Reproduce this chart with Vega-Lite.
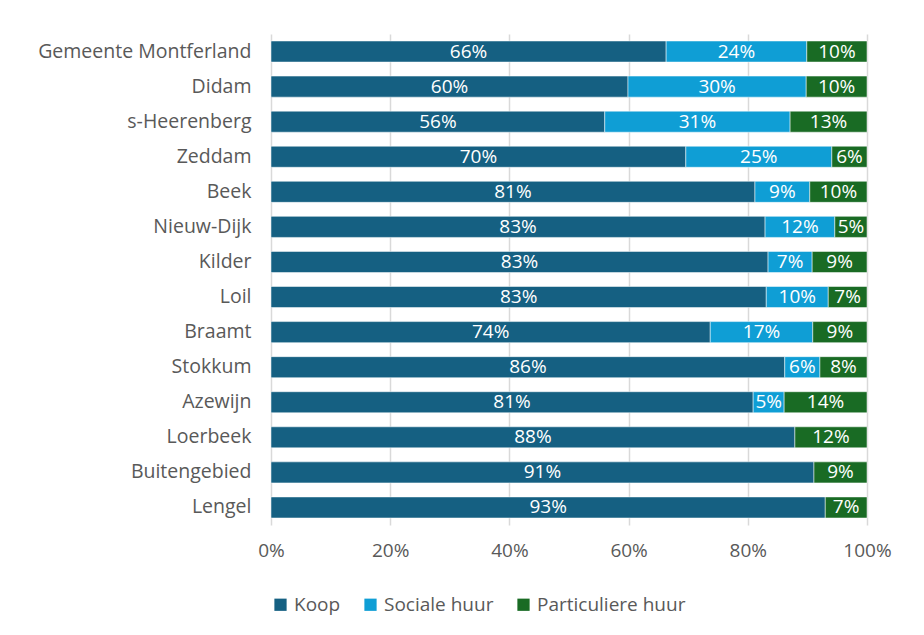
{
  "$schema": "https://vega.github.io/schema/vega-lite/v6.json",
  "width": 596,
  "height": 491,
  "autosize": "none",
  "padding": {"left": 271, "top": 34, "right": 57, "bottom": 110},
  "background": "white",
  "config": {
    "font": "Open Sans",
    "view": {"stroke": null}
  },
  "data": {
    "values": [
      {"region": "Gemeente Montferland", "type": "Koop", "order": 1, "value": 66.3},
      {"region": "Gemeente Montferland", "type": "Sociale huur", "order": 2, "value": 23.6},
      {"region": "Gemeente Montferland", "type": "Particuliere huur", "order": 3, "value": 10.1},
      {"region": "Didam", "type": "Koop", "order": 1, "value": 59.9},
      {"region": "Didam", "type": "Sociale huur", "order": 2, "value": 29.9},
      {"region": "Didam", "type": "Particuliere huur", "order": 3, "value": 10.2},
      {"region": "s-Heerenberg", "type": "Koop", "order": 1, "value": 56.0},
      {"region": "s-Heerenberg", "type": "Sociale huur", "order": 2, "value": 31.1},
      {"region": "s-Heerenberg", "type": "Particuliere huur", "order": 3, "value": 12.9},
      {"region": "Zeddam", "type": "Koop", "order": 1, "value": 69.6},
      {"region": "Zeddam", "type": "Sociale huur", "order": 2, "value": 24.5},
      {"region": "Zeddam", "type": "Particuliere huur", "order": 3, "value": 5.9},
      {"region": "Beek", "type": "Koop", "order": 1, "value": 81.2},
      {"region": "Beek", "type": "Sociale huur", "order": 2, "value": 9.2},
      {"region": "Beek", "type": "Particuliere huur", "order": 3, "value": 9.6},
      {"region": "Nieuw-Dijk", "type": "Koop", "order": 1, "value": 82.9},
      {"region": "Nieuw-Dijk", "type": "Sociale huur", "order": 2, "value": 11.7},
      {"region": "Nieuw-Dijk", "type": "Particuliere huur", "order": 3, "value": 5.4},
      {"region": "Kilder", "type": "Koop", "order": 1, "value": 83.4},
      {"region": "Kilder", "type": "Sociale huur", "order": 2, "value": 7.4},
      {"region": "Kilder", "type": "Particuliere huur", "order": 3, "value": 9.2},
      {"region": "Loil", "type": "Koop", "order": 1, "value": 83.1},
      {"region": "Loil", "type": "Sociale huur", "order": 2, "value": 10.4},
      {"region": "Loil", "type": "Particuliere huur", "order": 3, "value": 6.5},
      {"region": "Braamt", "type": "Koop", "order": 1, "value": 73.7},
      {"region": "Braamt", "type": "Sociale huur", "order": 2, "value": 17.2},
      {"region": "Braamt", "type": "Particuliere huur", "order": 3, "value": 9.1},
      {"region": "Stokkum", "type": "Koop", "order": 1, "value": 86.2},
      {"region": "Stokkum", "type": "Sociale huur", "order": 2, "value": 5.9},
      {"region": "Stokkum", "type": "Particuliere huur", "order": 3, "value": 7.9},
      {"region": "Azewijn", "type": "Koop", "order": 1, "value": 80.9},
      {"region": "Azewijn", "type": "Sociale huur", "order": 2, "value": 5.2},
      {"region": "Azewijn", "type": "Particuliere huur", "order": 3, "value": 13.9},
      {"region": "Loerbeek", "type": "Koop", "order": 1, "value": 87.9},
      {"region": "Loerbeek", "type": "Particuliere huur", "order": 3, "value": 12.1},
      {"region": "Buitengebied", "type": "Koop", "order": 1, "value": 91.1},
      {"region": "Buitengebied", "type": "Particuliere huur", "order": 3, "value": 8.9},
      {"region": "Lengel", "type": "Koop", "order": 1, "value": 93.0},
      {"region": "Lengel", "type": "Particuliere huur", "order": 3, "value": 7.0}
    ]
  },
  "transform": [
    {"stack": "value", "groupby": ["region"], "sort": [{"field": "order", "order": "ascending"}], "as": ["v0", "v1"]},
    {"calculate": "(datum.v0 + datum.v1) / 2", "as": "mid"},
    {"calculate": "format(datum.value, '.0f') + '%'", "as": "label"}
  ],
  "encoding": {
    "y": {
      "field": "region",
      "type": "nominal",
      "sort": null,
      "scale": {"paddingInner": 0.4, "paddingOuter": 0.2},
      "axis": {
        "title": null,
        "ticks": false,
        "domain": false,
        "labelFontSize": 19.5,
        "labelColor": "#595959",
        "labelPadding": 20,
        "labelLimit": 300
      }
    }
  },
  "layer": [
    {
      "mark": {"type": "bar", "stroke": "white", "strokeWidth": 0.5},
      "encoding": {
        "x": {
          "field": "v0",
          "type": "quantitative",
          "scale": {"domain": [0, 100], "nice": false},
          "axis": {
            "title": null,
            "values": [0, 20, 40, 60, 80, 100],
            "labelExpr": "datum.value + '%'",
            "ticks": false,
            "domain": false,
            "grid": true,
            "gridColor": "#d9d9d9",
            "gridWidth": 1.5,
            "labelFlush": false,
            "labelFontSize": 19,
            "labelColor": "#595959",
            "labelPadding": 16
          }
        },
        "x2": {"field": "v1"},
        "color": {
          "field": "type",
          "type": "nominal",
          "scale": {
            "domain": ["Koop", "Sociale huur", "Particuliere huur"],
            "range": ["#156082", "#0F9ED5", "#196B24"]
          },
          "legend": {
            "title": null,
            "orient": "bottom",
            "direction": "horizontal",
            "symbolType": "square",
            "symbolSize": 150,
            "symbolStrokeWidth": 0,
            "labelFontSize": 19,
            "labelColor": "#595959",
            "columnPadding": 20,
            "labelOffset": 4,
            "offset": 35
          }
        }
      }
    },
    {
      "mark": {"type": "text", "color": "white", "fontSize": 19, "baseline": "middle", "align": "center"},
      "encoding": {
        "x": {"field": "mid", "type": "quantitative"},
        "text": {"field": "label"}
      }
    }
  ]
}
